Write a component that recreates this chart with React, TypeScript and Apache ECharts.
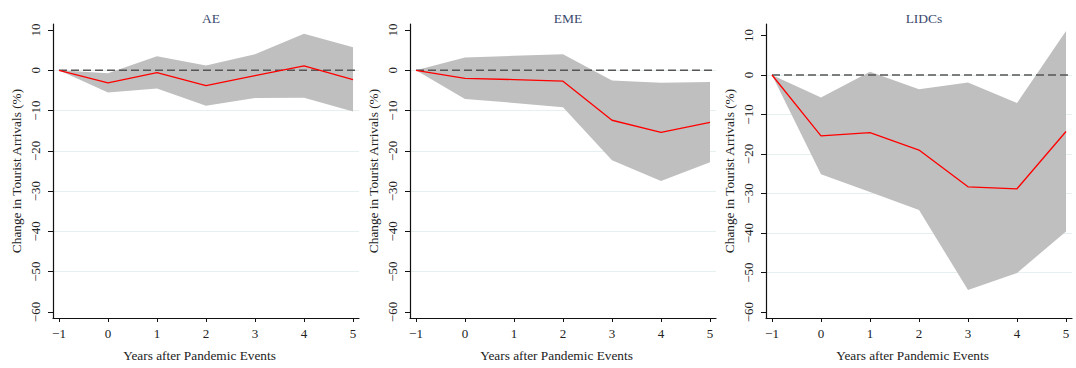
import React, { useEffect, useRef } from "react";
import * as echarts from "echarts";

const years = [-1, 0, 1, 2, 3, 4, 5];
const yTicks = [-60, -50, -40, -30, -20, -10, 0, 10];
const panelTitles = ["AE", "EME", "LIDCs"];

const aeEstimate = [0, -3.1, -0.6, -3.8, -1.3, 1.1, -2.3];
const aeUpper = [0, -0.7, 3.5, 1.2, 4.0, 9.1, 5.7];
const aeLower = [0, -5.5, -4.5, -8.8, -6.9, -6.8, -10.2];

const emeEstimate = [0, -2.0, -2.3, -2.7, -12.4, -15.4, -12.9];
const emeUpper = [0, 3.2, 3.6, 4.0, -2.5, -3.1, -2.9];
const emeLower = [0, -7.1, -8.1, -9.2, -22.3, -27.5, -22.8];

const lidcEstimate = [0, -15.4, -14.6, -19.0, -28.3, -28.8, -14.3];
const lidcUpper = [0, -5.7, 0.8, -3.6, -1.9, -7.1, 11.1];
const lidcLower = [0, -25.1, -29.6, -34.2, -54.4, -50.1, -39.6];

const xAxisTitle = "Years after Pandemic Events";
const yAxisTitle = "Change in Tourist Arrivals (%)";

const FONT = "'Liberation Serif', 'DejaVu Serif', serif";
const X_MIN = -1.122;
const X_MAX = 5.122;
const Y_MIN = -61.5;
const yMaxes = [11.5, 11.5, 12.9];
const gridLefts = [53, 410, 766];
const GRID_W = 306;
const GRID_TOP = 24;
const GRID_H = 294;

const panels = [
  { est: aeEstimate, up: aeUpper, lo: aeLower },
  { est: emeEstimate, up: emeUpper, lo: emeLower },
  { est: lidcEstimate, up: lidcUpper, lo: lidcLower },
];

const minus = (v: number) => String(v).replace("-", "\u2212");

export default function App() {
  const ref = useRef<HTMLDivElement>(null);
  useEffect(() => {
    if (!ref.current) return;
    const chart = echarts.init(ref.current, undefined, { renderer: "svg" });
    const grids: any[] = [];
    const xAxes: any[] = [];
    const yAxes: any[] = [];
    const titles: any[] = [];
    const series: any[] = [];
    panels.forEach((p, i) => {
      grids.push({ left: gridLefts[i], top: GRID_TOP, width: GRID_W, height: GRID_H });
      titles.push({
        text: panelTitles[i],
        left: gridLefts[i] + GRID_W / 2,
        top: 6,
        textAlign: "center",
        textStyle: { fontFamily: FONT, fontSize: 13.5, fontWeight: "normal", color: "#3b4a6e" },
      });
      xAxes.push({
        type: "value",
        gridIndex: i,
        min: X_MIN,
        max: X_MAX,
        name: xAxisTitle,
        nameLocation: "middle",
        nameGap: 31,
        nameTextStyle: { fontFamily: FONT, fontSize: 13.3, color: "#222", padding: [0, 13, 0, 0] },
        axisLine: { onZero: false, lineStyle: { color: "#111", width: 1.2 } },
        axisTick: { show: true, customValues: years, length: 4, lineStyle: { color: "#111" } },
        axisLabel: {
          customValues: years,
          formatter: (v: number) => minus(v),
          fontFamily: FONT,
          fontSize: 13,
          color: "#222",
          margin: 9,
        },
        splitLine: { show: false },
      });
      yAxes.push({
        type: "value",
        gridIndex: i,
        min: Y_MIN,
        max: yMaxes[i],
        splitNumber: 7,
        name: yAxisTitle,
        nameLocation: "middle",
        nameRotate: 90,
        nameGap: 30,
        nameTextStyle: { fontFamily: FONT, fontSize: 13.3, color: "#222" },
        axisLine: { show: true, onZero: false, lineStyle: { color: "#111", width: 1.2 } },
        axisTick: { show: true, customValues: yTicks, length: 5, lineStyle: { color: "#111" } },
        axisLabel: {
          customValues: yTicks,
          rotate: 90,
          formatter: (v: number) => minus(v),
          fontFamily: FONT,
          fontSize: 13,
          color: "#222",
          margin: 11,
        },
        splitLine: {
          show: true,
          showMinLine: false,
          showMaxLine: false,
          lineStyle: { color: "#e6f0f1", width: 1 },
        },
      });
      const bandData = years.map((x, k) => [x, p.lo[k], p.up[k]]);
      series.push({
        type: "custom",
        xAxisIndex: i,
        yAxisIndex: i,
        silent: true,
        encode: { x: 0, y: [1, 2] },
        data: bandData,
        renderItem: (params: any, api: any) => {
          if (params.dataIndex !== 0) return null;
          const upperPts = bandData.map((d) => api.coord([d[0], d[2]]));
          const lowerPts = bandData.map((d) => api.coord([d[0], d[1]])).reverse();
          return {
            type: "polygon",
            shape: { points: upperPts.concat(lowerPts) },
            style: { fill: "#bfbfbf", stroke: "none" },
          };
        },
      });
      series.push({
        type: "line",
        xAxisIndex: i,
        yAxisIndex: i,
        symbol: "none",
        lineStyle: { color: "#555", width: 1.5, type: [8, 4] },
        data: [
          [years[0], 0],
          [X_MAX, 0],
        ],
        silent: true,
      });
      series.push({
        type: "line",
        xAxisIndex: i,
        yAxisIndex: i,
        symbol: "none",
        lineStyle: { color: "#ff0000", width: 1.3 },
        data: years.map((x, k) => [x, p.est[k]]),
      });
    });
    chart.setOption({
      animation: false,
      backgroundColor: "#ffffff",
      title: titles,
      grid: grids,
      xAxis: xAxes,
      yAxis: yAxes,
      series,
    });
    return () => chart.dispose();
  }, []);
  return (
    <div
      ref={ref}
      style={{ position: "absolute", left: 0, top: 0, width: 1076, height: 368 }}
    />
  );
}
